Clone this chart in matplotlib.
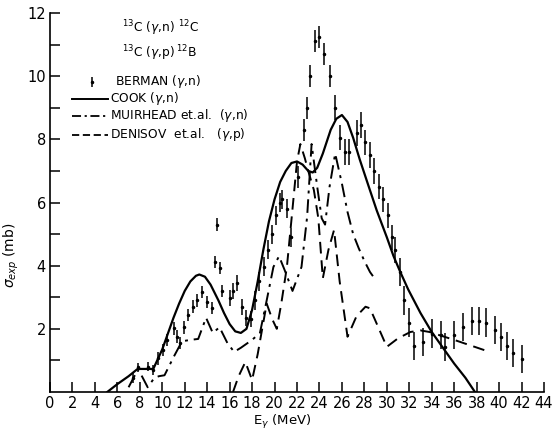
import numpy as np
import matplotlib
matplotlib.use("Agg")
from matplotlib import pyplot as plt

# Berman (gamma,n) data points
berman_e = [7.4, 7.8, 8.7, 9.2, 9.6, 10.1, 10.4, 11.0, 11.3, 11.6, 11.9, 12.3, 12.7, 13.1,
            13.5, 14.0, 14.4, 14.7, 14.9, 15.1, 15.3, 16.0, 16.3, 16.7, 17.1, 17.5, 17.9,
            18.3, 18.6, 19.1, 19.4, 19.8, 20.1, 20.5, 20.7, 21.1, 21.5, 22.1, 22.6, 22.9,
            23.2, 23.6, 24.0, 24.4, 24.9, 25.4, 25.8, 26.3, 26.6, 27.3, 27.7, 28.1, 28.5,
            28.9, 29.3, 29.7, 30.1, 30.5, 30.7, 31.2, 31.5, 32.0, 32.4, 33.2, 34.0, 34.8,
            35.2, 36.0, 36.8, 37.6, 38.2, 38.8, 39.6, 40.2, 40.7, 41.2, 42.0]
berman_s = [0.45, 0.78, 0.8, 0.7, 1.07, 1.33, 1.65, 2.02, 1.75, 1.55, 2.05, 2.44, 2.7, 2.9,
            3.17, 2.85, 2.66, 4.12, 5.3, 3.93, 3.2, 2.98, 3.2, 3.45, 2.7, 2.35, 2.3,
            2.9, 3.5, 3.96, 4.5, 5.0, 5.6, 6.0, 6.1, 5.8, 4.9, 6.8, 8.3, 9.0,
            10.0, 11.1, 11.25, 10.7, 10.0, 9.0, 8.05, 7.6, 7.6, 8.2, 8.45, 7.9, 7.5,
            7.0, 6.5, 6.1, 5.6, 4.9, 4.5, 3.8, 2.9, 2.2, 1.46, 1.58, 1.85, 1.8,
            1.43, 1.8, 2.06, 2.25, 2.25, 2.2, 1.96, 1.75, 1.46, 1.23, 1.04]
berman_err = [0.15, 0.15, 0.15, 0.15, 0.2, 0.2, 0.2, 0.2, 0.2, 0.2, 0.2, 0.2, 0.2, 0.2,
              0.2, 0.2, 0.2, 0.2, 0.2, 0.2, 0.2, 0.25, 0.25, 0.25, 0.25, 0.25, 0.25,
              0.3, 0.3, 0.3, 0.3, 0.3, 0.3, 0.3, 0.3, 0.3, 0.3, 0.35, 0.35, 0.35,
              0.35, 0.35, 0.35, 0.35, 0.35, 0.4, 0.4, 0.4, 0.4, 0.4, 0.4, 0.4, 0.4,
              0.4, 0.4, 0.4, 0.4, 0.4, 0.4, 0.45, 0.45, 0.45, 0.45, 0.45, 0.45, 0.45,
              0.45, 0.45, 0.45, 0.45, 0.45, 0.45, 0.45, 0.45, 0.45, 0.45, 0.45]

# Cook (gamma,n)
cook_e = [5.1, 6, 7, 7.8, 8.5, 9.2, 10, 10.5, 11, 11.5, 12, 12.5, 13, 13.3, 13.8, 14.3,
          15, 15.5, 16, 16.5, 17, 17.5, 18, 18.5, 19, 19.5, 20, 20.5, 21, 21.5, 22, 22.5,
          23, 23.4, 23.8, 24.3, 25, 25.5, 26, 26.5, 27, 27.6, 28.3, 29.1, 30, 30.6, 31.2,
          31.9, 33, 34, 35, 36, 37, 37.85]
cook_s = [0, 0.25, 0.5, 0.73, 0.73, 0.73, 1.35, 1.85, 2.35, 2.8, 3.2, 3.5, 3.68, 3.72, 3.65, 3.4,
          2.9, 2.5, 2.15, 1.92, 1.87, 2.0, 2.6, 3.5, 4.5, 5.4, 6.1, 6.65, 7.0, 7.25, 7.3, 7.2,
          7.0, 6.95, 7.1, 7.55, 8.3, 8.65, 8.77, 8.55, 8.05, 7.35, 6.6, 5.75, 4.9, 4.3, 3.8,
          3.25, 2.5, 1.9, 1.4, 0.9, 0.45, 0.0]

# Muirhead et al. (gamma,n)
muir_e = [7.0, 7.85, 8.7, 9.3, 9.7, 10.2, 11.0, 11.6, 12.0, 12.5, 13.2, 13.9, 14.5, 15.1,
          15.8, 16.4, 17.0, 18.0, 18.7, 19.3, 19.9, 20.4, 20.9, 21.6, 22.4, 22.9, 23.3,
          23.8, 24.2, 24.5, 24.9, 25.4, 26.0, 26.5, 27.0, 27.5, 28.0, 28.5, 29.0]
muir_s = [0.15, 0.73, 0.15, 0.45, 0.5, 0.53, 1.1, 1.5, 1.62, 1.65, 1.68, 2.35, 1.87, 2.05,
          1.55, 1.27, 1.4, 1.65, 1.87, 2.9, 3.96, 4.3, 3.86, 3.2, 3.96, 5.54, 7.85,
          6.5, 5.5, 5.3, 6.5, 7.55, 6.6, 5.7, 5.0, 4.55, 4.15, 3.8, 3.55]

# Denisov et al. (gamma,p)
den_e = [16.3, 16.8, 17.4, 18.0, 18.5, 19.3, 19.8, 20.2, 20.6, 21.1, 21.6, 22.0, 22.3,
         22.7, 23.0, 23.5, 23.9, 24.3, 24.8, 25.3, 25.8, 26.5, 27.3, 28.1, 28.5, 29.3,
         30.0, 31.0, 32.1, 33.0, 33.8, 36.0, 38.9]
den_s = [0, 0.5, 0.95, 0.38, 1.2, 2.8, 2.3, 2.0, 2.8, 3.96, 5.8, 7.3, 7.85,
         7.4, 7.0, 6.4, 5.5, 3.6, 4.5, 5.13, 3.5, 1.75, 2.4, 2.7, 2.65, 2.0,
         1.43, 1.7, 1.9, 1.95, 1.9, 1.65, 1.3]

xticks = list(range(0, 45, 2))
yticks = [2, 4, 6, 8, 10, 12]

fig = plt.figure(figsize=(5.57, 4.30), dpi=100)
ax = fig.add_axes([50 / 557, 1 - 392 / 430, 494 / 557, 379 / 430])

ax.plot(cook_e, cook_s, color='black', lw=1.6, ls='-')
ax.plot(muir_e, muir_s, color='black', lw=1.4, dashes=(7, 3, 1.5, 3))
ax.plot(den_e, den_s, color='black', lw=1.4, dashes=(6, 3.5))
ax.errorbar(berman_e, berman_s, yerr=berman_err, fmt='.', color='black',
            ms=3, elinewidth=1.1, capsize=0)

ax.set_xlim(0, 44)
ax.set_ylim(0, 12)
ax.spines['top'].set_visible(False)
ax.spines['right'].set_visible(False)
ax.spines['left'].set_linewidth(1.2)
ax.spines['bottom'].set_linewidth(1.2)
ax.set_xticks(xticks)
ax.set_yticks(yticks)
ax.set_yticks([1, 3, 5, 7, 9, 11], minor=True)
ax.tick_params(axis='both', which='both', direction='in', length=7, width=1.1,
               labelsize=10.5, pad=3)

ax.set_xlabel(r'E$_{\gamma}$ (MeV)', fontsize=9.5)
ax.xaxis.set_label_coords(0.47, -0.056)
ax.set_ylabel(r'$\sigma_{exp}$ (mb)', fontsize=10)
ax.yaxis.set_label_coords(-0.058, 0.36)

# legend block drawn by hand like the original
fs = 8.8
ax.text(6.4, 11.53, r'$^{13}$C ($\gamma$,n) $^{12}$C', fontsize=fs, va='center')
ax.text(6.4, 10.73, r'$^{13}$C ($\gamma$,p)$\,^{12}$B', fontsize=fs, va='center')
ax.errorbar([3.74], [9.82], yerr=[0.15], fmt='.', color='black', ms=3, elinewidth=1.1, capsize=0)
ax.text(5.8, 9.82, r'BERMAN ($\gamma$,n)', fontsize=fs, va='center')
ax.plot([1.96, 5.2], [9.28, 9.28], color='black', lw=1.4)
ax.text(5.35, 9.28, r'COOK ($\gamma$,n)', fontsize=fs, va='center')
ax.plot([1.96, 5.2], [8.74, 8.74], color='black', lw=1.3, dashes=(5, 2, 1.2, 2))
ax.text(5.35, 8.74, r'MUIRHEAD et.al.  ($\gamma$,n)', fontsize=fs, va='center')
ax.plot([1.96, 5.2], [8.14, 8.14], color='black', lw=1.3, dashes=(4, 2))
ax.text(5.35, 8.14, r'DENISOV  et.al.   ($\gamma$,p)', fontsize=fs, va='center')

fig.savefig('out.png', dpi=100)
